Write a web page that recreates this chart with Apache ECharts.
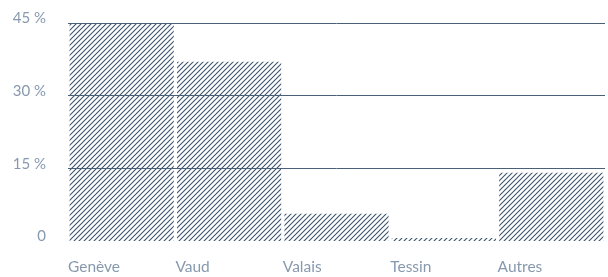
<!DOCTYPE html>
<html>
<head>
<meta charset="utf-8">
<script src="https://cdn.jsdelivr.net/npm/echarts@6/dist/echarts.min.js"></script>
<style>
  html, body { margin: 0; padding: 0; background: #fff; }
  #chart { width: 608px; height: 277px; }
</style>
</head>
<body>
<div id="chart"></div>
<script>
"use strict";
let categories = ['Genève', 'Vaud', 'Valais', 'Tessin', 'Autres'];
let shares = [45, 37, 5.6, 0.6, 14.1];
let yTicks = [0, 15, 30, 45];

/*hatch pattern*/
function makeHatch() {
    let size = 5;
    let cv = document.createElement('canvas');
    cv.width = size;
    cv.height = size;
    let ctx = cv.getContext('2d');
    ctx.strokeStyle = '#3b536d';
    ctx.lineWidth = 1.1;
    [-size, 0, size].forEach(function (o) {
        ctx.beginPath();
        ctx.moveTo(o - 1, size + 1);
        ctx.lineTo(o + size + 1, -1);
        ctx.stroke();
    });
    return cv;
}

let chart = echarts.init(document.getElementById('chart'));
let labelColor = '#8799ae';
let option = {
    animation: false,
    grid: { left: 68, right: 0, top: 23, bottom: 36 },
    xAxis: [
        {
            type: 'category',
            data: categories,
            axisLine: { show: false },
            axisTick: { show: false },
            axisLabel: { show: false }
        },
        {
            type: 'category',
            position: 'bottom',
            boundaryGap: false,
            data: categories.concat(['']),
            axisLine: { show: false },
            axisTick: { show: false },
            axisLabel: {
                align: 'left',
                margin: 18,
                color: labelColor,
                fontFamily: 'Lato',
                fontSize: 15.5
            }
        }
    ],
    yAxis: {
        type: 'value',
        min: yTicks[0],
        max: yTicks[yTicks.length - 1],
        interval: 15,
        z: 5,
        axisLine: { show: false },
        axisTick: { show: false },
        axisLabel: {
            margin: 22,
            color: labelColor,
            fontFamily: 'Lato',
            fontSize: 15,
            verticalAlign: 'bottom',
            lineHeight: 9,
            formatter: function (v) { return v === 0 ? '0' : v + ' %'; }
        },
        splitLine: {
            showMinLine: false,
            lineStyle: { color: '#4a6078', width: 1 }
        }
    },
    series: [{
        type: 'bar',
        xAxisIndex: 0,
        data: shares,
        barCategoryGap: '3%',
        itemStyle: {
            color: { image: makeHatch(), repeat: 'repeat' }
        }
    }]
};
chart.setOption(option);
</script>
</body>
</html>
